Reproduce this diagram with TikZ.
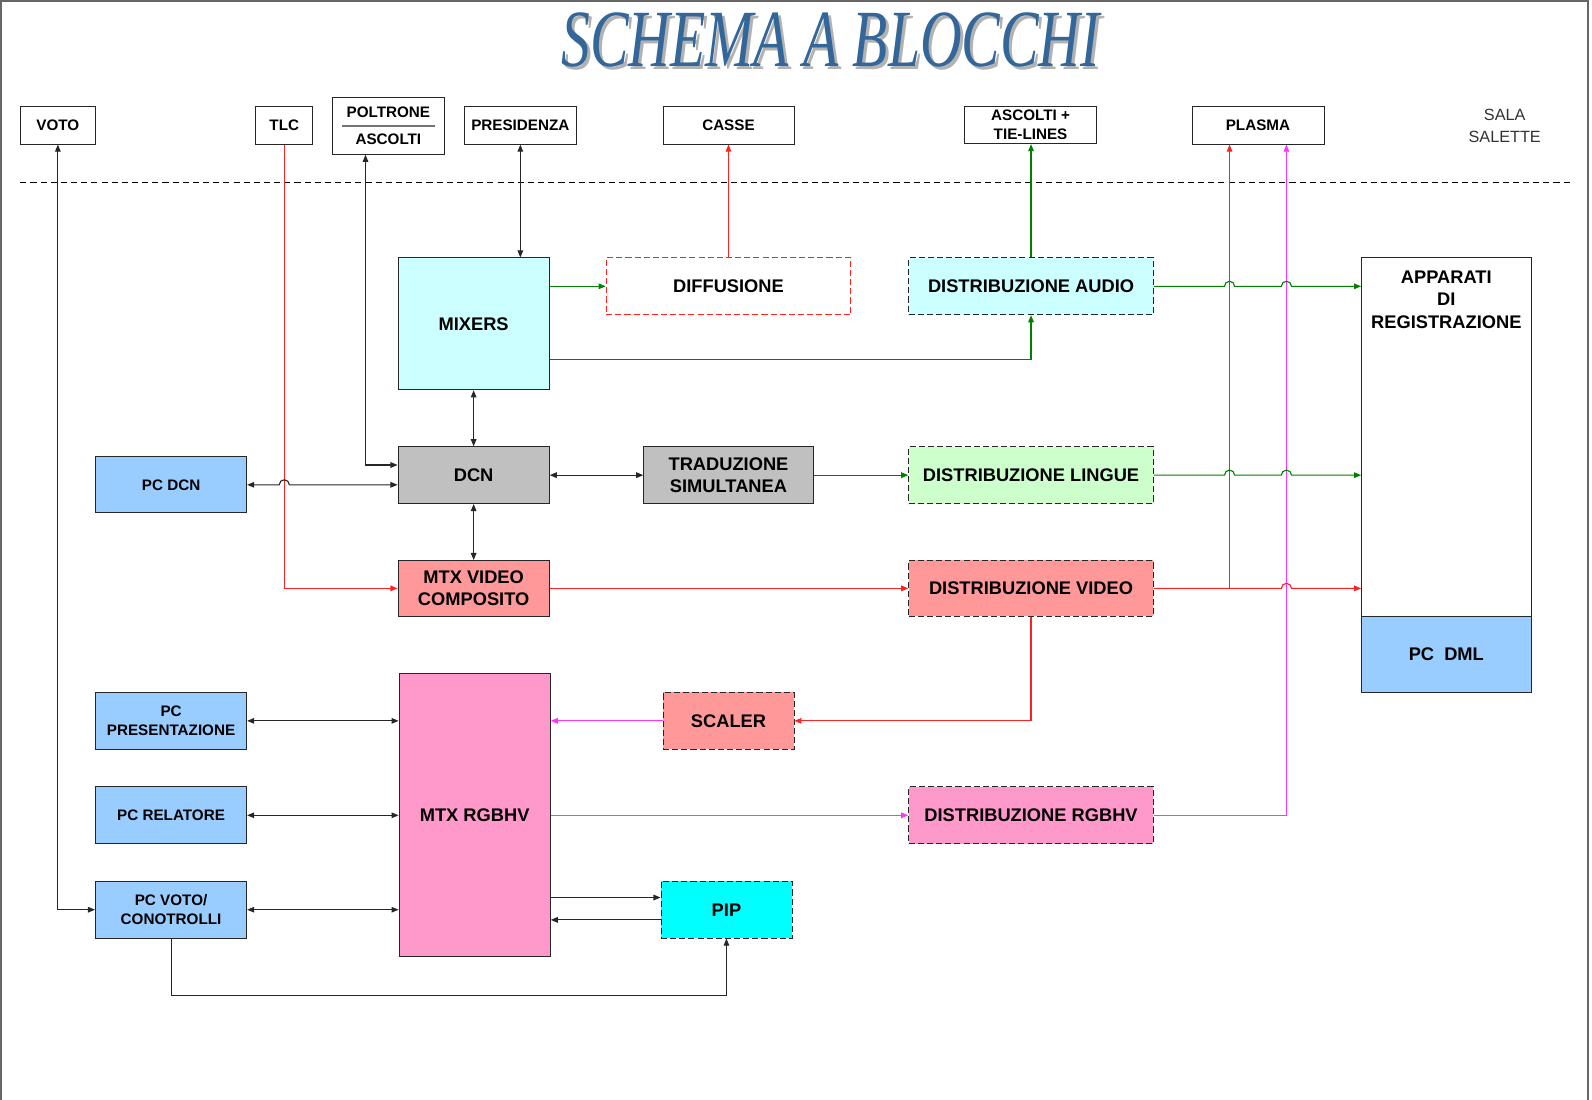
\documentclass[tikz,border=0pt]{standalone}
\usepackage{graphicx}
\usepackage{fontspec}
\setmainfont{Liberation Sans}
\newfontfamily\titlefont{Liberation Serif}
\usetikzlibrary{arrows.meta}

\definecolor{cyanlt}{HTML}{CCFFFF}
\definecolor{graybox}{HTML}{C0C0C0}
\definecolor{greenlt}{HTML}{CCFFCC}
\definecolor{salmon}{HTML}{FF9999}
\definecolor{pinkbox}{HTML}{FF99CC}
\definecolor{pcblue}{HTML}{99CCFF}
\definecolor{pipcyan}{HTML}{00FFFF}
\definecolor{titleblue}{HTML}{336699}
\definecolor{wiregreen}{HTML}{008000}
\definecolor{wirered}{HTML}{FF2020}
\definecolor{wiremag}{HTML}{FF33FF}

\newcommand{\bigtxt}{\bfseries\fontsize{18}{22}\selectfont}
\newcommand{\pctxt}{\bfseries\fontsize{15}{19}\selectfont}
\newcommand{\toptxt}{\bfseries\fontsize{15}{19}\selectfont}

\begin{document}
\begin{tikzpicture}[x=1pt,y=-1pt,
    wh/.style 2 args={minimum width=#1pt,minimum height=#2pt},
    blk/.style={draw=black!85,line width=0.8pt,inner sep=0pt,align=center,font=\bigtxt},
    dblk/.style={blk,dash pattern=on 6pt off 3pt},
    pcbox/.style={blk,fill=pcblue,font=\pctxt},
    topbox/.style={draw=black!85,line width=0.8pt,inner sep=0pt,align=center,font=\toptxt,wh={#1}{37}},
    wire/.style={line width=1.1pt,-{Triangle[length=7pt,width=5.5pt]}},
    bwire/.style={wire,black!85},
    biwire/.style={bwire,{Triangle[length=7pt,width=5.5pt]}-{Triangle[length=7pt,width=5.5pt]}},
    gwire/.style={wire,wiregreen},
    rwire/.style={wire,wirered},
    mwire/.style={wire,wiremag}]
  \useasboundingbox (0,0) rectangle (1568,1083);
  % frame
  \draw[black!60,line width=1.2pt] (1,1083) -- (1,1) -- (1564,1) -- (1564,1083);

  % title
  \node[text=black!30] (titleshadow) at (821,42) {\scalebox{0.71}[1]{\titlefont\itshape\fontsize{80}{80}\selectfont SCHEMA A BLOCCHI}};
  \node[text=titleblue] (title) at (818,39) {\scalebox{0.71}[1]{\titlefont\itshape\fontsize{80}{80}\selectfont SCHEMA A BLOCCHI}};

  % sala
  \node[topbox=74] (voto) at (57,123.5) {VOTO};
  \node[topbox=56] (tlc) at (280,123.5) {TLC};
  \node[topbox=111,wh={111}{56}] (poltr) at (382.5,124) {POLTRONE\\[7pt]ASCOLTI};
  \draw[black!55,line width=2pt] ([xshift=10pt]poltr.west) -- ([xshift=-10pt]poltr.east);
  \node[topbox=111] (presid) at (512.5,123.5) {PRESIDENZA};
  \node[topbox=129] (casse) at (717.5,123.5) {CASSE};
  \node[topbox=130] (ascolti) at (1015,123) {ASCOLTI +\\TIE-LINES};
  \node[topbox=130] (plasma) at (1239,123.5) {PLASMA};
  \node[align=center,font=\fontsize{16}{22}\selectfont,text=black!80] (sala) at (1482,124) {SALA\\SALETTE};
  \coordinate (plr) at ([xshift=-28pt]plasma.south);
  \coordinate (plm) at ([xshift=28pt]plasma.south);

  \draw[line width=0.9pt,dash pattern=on 6pt off 4pt] (20,180) -- (1547,180);

  % regia
  \node[blk,fill=cyanlt,wh={149}{130}] (mixers) at (466.5,319) {MIXERS};
  \node[dblk,draw=wirered,fill=white,wh={241}{56}] (diff) at (717.5,282) {DIFFUSIONE};
  \node[dblk,fill=cyanlt,wh={241}{56}] (daudio) at (1015.5,282) {DISTRIBUZIONE AUDIO};
  \node[blk,wh={167}{353},label={[name=applbl,anchor=north,yshift=-13pt,align=center,font=\bigtxt,inner sep=0pt]north:APPARATI\\DI\\REGISTRAZIONE}] (app) at (1424.5,430.5) {};
  \node[blk,fill=pcblue,wh={167}{75}] (pcdml) at (1424.5,644.5) {PC\ \ DML};
  \node[pcbox,wh={149}{55}] (pcdcn) at (168.5,477.5) {PC DCN};
  \node[blk,fill=graybox,wh={149}{56}] (dcn) at (466.5,468) {DCN};
  \node[blk,fill=graybox,wh={167}{56}] (trad) at (717.5,468) {TRADUZIONE\\SIMULTANEA};
  \node[dblk,fill=greenlt,wh={241}{56}] (dling) at (1015.5,468) {DISTRIBUZIONE LINGUE};
  \node[blk,fill=salmon,wh={149}{55}] (mtxv) at (466.5,579.5) {MTX VIDEO\\COMPOSITO};
  \node[dblk,fill=salmon,wh={241}{55}] (dvid) at (1015.5,579.5) {DISTRIBUZIONE VIDEO};
  \node[pcbox,wh={149}{56}] (pcpres) at (168.5,710) {PC\\PRESENTAZIONE};
  \node[blk,fill=pinkbox,wh={149}{279}] (mtxrgb) at (467.5,802.5) {MTX RGBHV};
  \node[dblk,fill=salmon,wh={129}{56}] (scaler) at (717.5,710) {SCALER};
  \node[pcbox,wh={149}{56}] (pcrel) at (168.5,803) {PC RELATORE};
  \node[dblk,fill=pinkbox,wh={241}{56}] (drgb) at (1015.5,803) {DISTRIBUZIONE RGBHV};
  \node[pcbox,wh={149}{56}] (pcvoto) at (168.5,896) {PC VOTO/\\CONOTROLLI};
  \node[dblk,fill=pipcyan,wh={129}{56}] (pip) at (715.5,896) {PIP};
  \coordinate (pipin) at ([yshift=12pt]pip.west);
  \coordinate (pipout) at ([yshift=-10pt]pip.west);

  % collegamenti verso la sala
  \draw[biwire] (voto.south) |- (pcvoto.west);
  \draw[rwire] (tlc.south) |- (mtxv.west);
  \draw[biwire] ([xshift=-22.5pt]poltr.south) |- ([yshift=10pt]dcn.west);
  \draw[biwire] (presid.south) -- (presid.south |- mixers.north);
  \draw[rwire] (diff.north) -- (casse.south);
  \draw[gwire] (daudio.north) -- (daudio.north |- ascolti.south);
  \draw[rwire] (plr |- dvid.east) -- (plr);
  \draw[mwire] (drgb.east) -| (plm);

  % audio
  \draw[gwire] (mixers.east |- diff.west) -- (diff.west);
  \draw[gwire] ([yshift=30pt]mixers.south east) -| (daudio.south);
  \draw[gwire] (daudio.east) -- (1206,282) arc[start angle=180,end angle=0,radius=5pt]
    -- (1262,282) arc[start angle=180,end angle=0,radius=5pt] -- (app.west |- daudio.east);
  \draw[biwire] (mixers.south) -- (dcn.north);
  \draw[biwire] (pcdcn.east) -- (275,477.5) arc[start angle=180,end angle=0,radius=5pt]
    -- (dcn.west |- pcdcn.east);
  \draw[biwire] (dcn.east) -- (trad.west);
  \draw[gwire] (trad.east) -- (dling.west);
  \draw[gwire] (dling.east) -- (1206,468) arc[start angle=180,end angle=0,radius=5pt]
    -- (1262,468) arc[start angle=180,end angle=0,radius=5pt] -- (app.west |- dling.east);

  % video
  \draw[biwire] (dcn.south) -- (mtxv.north);
  \draw[rwire] (mtxv.east) -- (dvid.west);
  \draw[rwire] (dvid.east) -- (1262,579.5) arc[start angle=180,end angle=0,radius=5pt]
    -- (app.west |- dvid.east);
  \draw[rwire] (dvid.south) |- (scaler.east);
  \draw[mwire] (scaler.west) -- (mtxrgb.east |- scaler.west);
  \draw[biwire] (pcpres.east) -- (mtxrgb.west |- pcpres.east);
  \draw[biwire] (pcrel.east) -- (mtxrgb.west |- pcrel.east);
  \draw[biwire] (pcvoto.east) -- (mtxrgb.west |- pcvoto.east);
  \draw[mwire] (mtxrgb.east |- drgb.west) -- (drgb.west);
  \draw[bwire] (pipin -| mtxrgb.east) -- (pipin);
  \draw[bwire] (pipout) -- (pipout -| mtxrgb.east);
  \draw[bwire] (pcvoto.south) -- ++(0,56) -| (pip.south);
\end{tikzpicture}
\end{document}
